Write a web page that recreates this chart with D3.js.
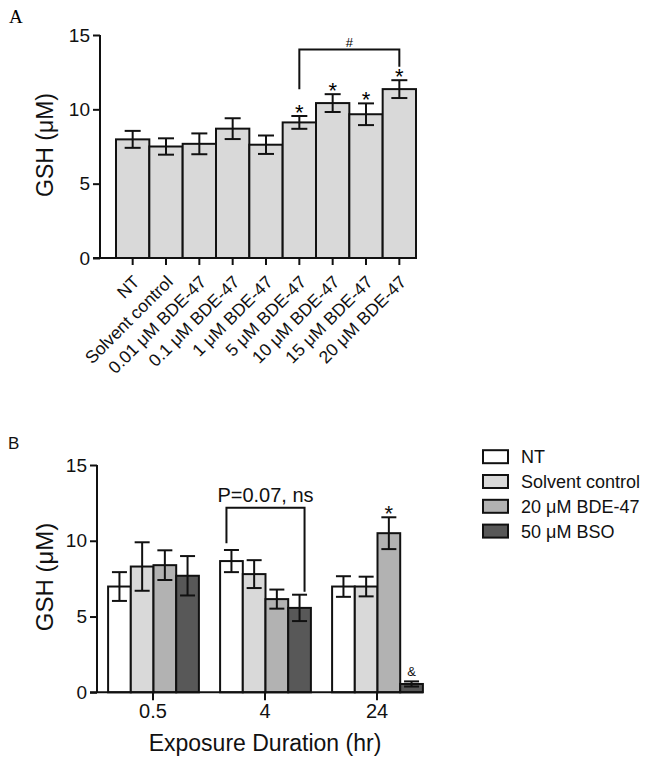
<!DOCTYPE html>
<html><head><meta charset="utf-8">
<script src="https://cdn.jsdelivr.net/npm/d3@7/dist/d3.min.js"></script>
<style>
body{margin:0;background:#fff;}
svg{display:block;font-family:"Liberation Sans",Arial,sans-serif;}
</style></head>
<body>
<svg id="chart" width="649" height="765"></svg>
<script>
// ---------- Panel A data ----------
const catsA = ["NT","Solvent control","0.01 \u03bcM BDE-47","0.1 \u03bcM BDE-47","1 \u03bcM BDE-47","5 \u03bcM BDE-47","10 \u03bcM BDE-47","15 \u03bcM BDE-47","20 \u03bcM BDE-47"];
const meanA = [7.98, 7.5, 7.68, 8.7, 7.62, 9.12, 10.42, 9.67, 11.36];
const semA  = [0.57, 0.55, 0.7, 0.7, 0.62, 0.43, 0.6, 0.73, 0.6];
const starA = [false,false,false,false,false,true,true,true,true];
const ticksA = [0,5,10,15];
// bracket: from category 5 to 8, top at 14.03, left leg to 11.35, right leg to 12.87
const bracketA = {from:5, to:8, top:14.03, leftEnd:11.35, rightEnd:12.87, label:"#"};

// ---------- Panel B data ----------
const groupsB = ["0.5","4","24"];
const seriesB = ["NT","Solvent control","20 \u03bcM BDE-47","50 \u03bcM BSO"];
const meanB = [
  [6.98, 8.3, 8.39, 7.69],
  [8.66, 7.8, 6.15, 5.57],
  [6.98, 6.98, 10.5, 0.55]
];
const semB = [
  [0.95, 1.6, 0.98, 1.3],
  [0.73, 0.92, 0.63, 0.87],
  [0.68, 0.65, 1.05, 0.17]
];
const markB = [
  ["","","",""],
  ["","","",""],
  ["","","*","&"]
];
const colorsB = ["#ffffff","#d9d9d9","#b2b2b2","#585858"];
const ticksB = [0,5,10,15];
const bracketB = {group:1, from:0, to:3, top:12.18, leftEnd:9.83, rightEnd:6.64, label:"P=0.07, ns"};

const svg = d3.select("#chart");
const AX = 2;

// ================= PANEL A =================
const xA = d3.scaleBand().domain(catsA).range([116, 416]).padding(0);
const yA = d3.scaleLinear().domain([0,15]).range([258, 35]);
const gA = svg.append("g");

gA.append("text").attr("x",9).attr("y",23).attr("font-family","'Liberation Serif','Times New Roman',serif")
  .attr("font-size",19).text("A");

// bars
gA.selectAll("rect.bar").data(meanA).join("rect")
  .attr("x",(d,i)=>xA(catsA[i])).attr("width",xA.bandwidth())
  .attr("y",d=>yA(d)).attr("height",d=>yA(0)-yA(d))
  .attr("fill","#d9d9d9").attr("stroke","#111").attr("stroke-width",2);

// error bars
const ebA = gA.selectAll("g.eb").data(meanA).join("g");
ebA.append("line").attr("x1",(d,i)=>xA(catsA[i])+xA.bandwidth()/2).attr("x2",(d,i)=>xA(catsA[i])+xA.bandwidth()/2)
  .attr("y1",(d,i)=>yA(d+semA[i])).attr("y2",(d,i)=>yA(d-semA[i])).attr("stroke","#111").attr("stroke-width",2);
[1,-1].forEach(s=>{
  ebA.append("line").attr("x1",(d,i)=>xA(catsA[i])+xA.bandwidth()/2-8).attr("x2",(d,i)=>xA(catsA[i])+xA.bandwidth()/2+8)
    .attr("y1",(d,i)=>yA(d+s*semA[i])).attr("y2",(d,i)=>yA(d+s*semA[i])).attr("stroke","#111").attr("stroke-width",2);
});
// stars
gA.selectAll("text.star").data(meanA.map((d,i)=>({d,i})).filter(o=>starA[o.i])).join("text")
  .attr("x",o=>xA(catsA[o.i])+xA.bandwidth()/2).attr("y",o=>yA(o.d+semA[o.i])+4)
  .attr("text-anchor","middle").attr("font-size",22).text("*");

// axes A
const yAxisA = d3.axisLeft(yA).tickValues(ticksA).tickSize(7).tickPadding(3);
const gyA = gA.append("g").attr("transform","translate(100,0)").call(yAxisA);
gyA.select(".domain").attr("stroke","#111").attr("stroke-width",AX).attr("d",`M0,${yA(15)}V${yA(0)}`);
gyA.selectAll(".tick line").attr("stroke","#111").attr("stroke-width",AX);
gyA.selectAll(".tick text").attr("font-size",19).attr("font-family","'Liberation Sans',Arial,sans-serif").attr("fill","#111");

const xAxisA = d3.axisBottom(xA).tickSize(7).tickFormat("");
const gxA = gA.append("g").attr("transform",`translate(0,${yA(0)})`).call(xAxisA);
gxA.select(".domain").attr("stroke","#111").attr("stroke-width",AX).attr("d","M93,0H416");
gxA.selectAll(".tick line").attr("stroke","#111").attr("stroke-width",AX);
// rotated labels
gA.selectAll("text.xl").data(catsA).join("text")
  .attr("text-anchor","end").attr("font-size",17.5).attr("fill","#111")
  .attr("transform",d=>`translate(${xA(d)+xA.bandwidth()/2+8},${yA(0)+25}) rotate(-45)`)
  .text(d=>d);

gA.append("text").attr("transform",`translate(53,145) rotate(-90)`).attr("text-anchor","middle")
  .attr("font-size",23).attr("fill","#111").text("GSH (\u03bcM)");

// bracket A
{
  const x1 = xA(catsA[bracketA.from])+xA.bandwidth()/2, x2 = xA(catsA[bracketA.to])+xA.bandwidth()/2;
  gA.append("path").attr("fill","none").attr("stroke","#111").attr("stroke-width",2)
    .attr("d",`M${x1},${yA(bracketA.leftEnd)}V${yA(bracketA.top)}H${x2}V${yA(bracketA.rightEnd)}`);
  gA.append("text").attr("x",(x1+x2)/2).attr("y",yA(bracketA.top)-2).attr("text-anchor","middle")
    .attr("font-size",13).text(bracketA.label);
}

// ================= PANEL B =================
const gB = svg.append("g");
const xB = d3.scalePoint().domain(groupsB).range([153.5, 377.5]);
const xSub = d3.scaleBand().domain(seriesB).range([-45.4, 45.4]).padding(0);
const yB = d3.scaleLinear().domain([0,15]).range([692.3, 465]);

gB.append("text").attr("x",8).attr("y",449).attr("font-size",17).attr("fill","#111").text("B");

const flat = [];
groupsB.forEach((g,gi)=>seriesB.forEach((s,si)=>flat.push({g,s,gi,si,v:meanB[gi][si],e:semB[gi][si],m:markB[gi][si]})));
const cx = d => xB(d.g)+xSub(d.s)+xSub.bandwidth()/2;

gB.selectAll("rect.bar").data(flat).join("rect")
  .attr("x",d=>xB(d.g)+xSub(d.s)).attr("width",xSub.bandwidth())
  .attr("y",d=>yB(d.v)).attr("height",d=>yB(0)-yB(d.v))
  .attr("fill",d=>colorsB[d.si]).attr("stroke","#111").attr("stroke-width",2);

const ebB = gB.selectAll("g.eb").data(flat).join("g");
ebB.append("line").attr("x1",cx).attr("x2",cx).attr("y1",d=>yB(d.v+d.e)).attr("y2",d=>yB(d.v-d.e))
  .attr("stroke","#111").attr("stroke-width",2);
[1,-1].forEach(s=>{
  ebB.append("line").attr("x1",d=>cx(d)-7.5).attr("x2",d=>cx(d)+7.5)
    .attr("y1",d=>yB(d.v+s*d.e)).attr("y2",d=>yB(d.v+s*d.e)).attr("stroke","#111").attr("stroke-width",2);
});
gB.selectAll("text.mk").data(flat.filter(d=>d.m)).join("text")
  .attr("x",cx).attr("y",d=>d.m==="*"?yB(d.v+d.e)+4:yB(d.v+d.e)-5)
  .attr("text-anchor","middle").attr("font-size",d=>d.m==="*"?22:13).attr("fill","#111").text(d=>d.m);

const yAxisB = d3.axisLeft(yB).tickValues(ticksB).tickSize(7).tickPadding(3);
const gyB = gB.append("g").attr("transform","translate(97,0)").call(yAxisB);
gyB.select(".domain").attr("stroke","#111").attr("stroke-width",AX).attr("d",`M0,${yB(15)}V${yB(0)}`);
gyB.selectAll(".tick line").attr("stroke","#111").attr("stroke-width",AX);
gyB.selectAll(".tick text").attr("font-size",19).attr("font-family","'Liberation Sans',Arial,sans-serif").attr("fill","#111");

const xAxisB = d3.axisBottom(xB).tickSize(8).tickPadding(4);
const gxB = gB.append("g").attr("transform",`translate(-1,${yB(0)})`).call(xAxisB);
gxB.select(".domain").attr("stroke","#111").attr("stroke-width",AX).attr("d","M91,0H424");
gxB.selectAll(".tick line").attr("stroke","#111").attr("stroke-width",AX);
gxB.selectAll(".tick text").attr("font-size",20).attr("font-family","'Liberation Sans',Arial,sans-serif").attr("fill","#111");

gB.append("text").attr("x",265).attr("y",751).attr("text-anchor","middle").attr("font-size",23).attr("fill","#111")
  .text("Exposure Duration (hr)");
gB.append("text").attr("transform",`translate(53,577) rotate(-90)`).attr("text-anchor","middle")
  .attr("font-size",24).attr("fill","#111").text("GSH (\u03bcM)");

// bracket B
{
  const g = groupsB[bracketB.group];
  const x1 = xB(g)+xSub(seriesB[bracketB.from])+xSub.bandwidth()/2-5;
  const x2 = xB(g)+xSub(seriesB[bracketB.to])+xSub.bandwidth()/2+5;
  gB.append("path").attr("fill","none").attr("stroke","#111").attr("stroke-width",2)
    .attr("d",`M${x1},${yB(bracketB.leftEnd)}V${yB(bracketB.top)}H${x2}V${yB(bracketB.rightEnd)}`);
  gB.append("text").attr("x",(x1+x2)/2).attr("y",yB(bracketB.top)-5.5).attr("text-anchor","middle")
    .attr("font-size",20).attr("fill","#111").text(bracketB.label);
}

// legend
const leg = gB.append("g");
const legRows = leg.selectAll("g").data(seriesB).join("g").attr("transform",(d,i)=>`translate(483,${456.7+i*24.8})`);
legRows.append("rect").attr("x",0).attr("y",-6.5).attr("width",25).attr("height",13)
  .attr("fill",(d,i)=>colorsB[i]).attr("stroke","#111").attr("stroke-width",2);
legRows.append("text").attr("x",38).attr("y",6.5).attr("font-size",18).attr("fill","#111").text(d=>d);
</script>
</body></html>
